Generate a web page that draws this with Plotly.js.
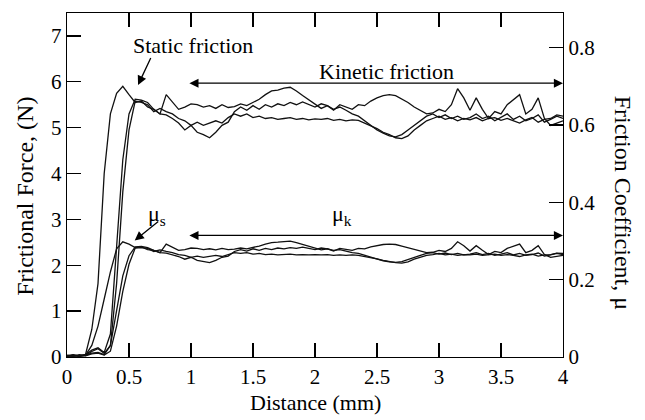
<!DOCTYPE html>
<html>
<head>
<meta charset="utf-8">
<script src="https://cdn.plot.ly/plotly-3.0.1.min.js"></script>
<style>html,body{margin:0;padding:0;background:#fff;}#chart{width:645px;height:420px;}</style>
</head>
<body>
<div id="chart"></div>
<script>
// Distance (mm) sample positions
const distance = [0,0.05,0.1,0.15,0.2,0.25,0.3,0.35,0.4,0.45,0.5,0.55,0.6,0.65,0.7,0.75,0.8,0.85,0.9,0.95,1.0,1.05,1.1,1.15,1.2,1.25,1.3,1.35,1.4,1.45,1.5,1.55,1.6,1.65,1.7,1.75,1.8,1.85,1.9,1.95,2.0,2.05,2.1,2.15,2.2,2.25,2.3,2.35,2.4,2.45,2.5,2.55,2.6,2.65,2.7,2.75,2.8,2.85,2.9,2.95,3.0,3.05,3.1,3.15,3.2,3.25,3.3,3.35,3.4,3.45,3.5,3.55,3.6,3.65,3.7,3.75,3.8,3.85,3.9,3.95,4.0];

// Frictional force (N), three runs
const forceRun1 = [0.03,0.05,0.02,0.06,0.6,1.6,4.0,5.3,5.75,5.9,5.72,5.55,
  5.58,5.45,5.4,5.3,5.28,5.2,5.1,4.95,5.05,4.9,4.85,4.78,4.9,5.05,5.12,5.35,5.45,5.38,5.48,5.4,5.5,5.45,5.52,5.48,5.55,5.5,5.56,5.5,5.45,5.52,5.48,5.4,5.45,5.38,5.3,5.25,5.15,5.05,4.95,4.88,4.82,4.8,4.85,4.95,5.05,5.15,5.25,5.3,5.22,5.28,5.2,5.25,5.18,5.22,5.3,5.2,5.25,5.15,5.22,5.3,5.18,5.25,5.15,5.2,5.28,5.12,5.18,5.25,5.2];
const forceRun2 = [0.02,0.04,0.03,0.05,0.15,0.2,0.1,0.5,2.4,4.3,5.3,5.62,
  5.6,5.55,5.4,5.3,5.72,5.55,5.4,5.45,5.52,5.5,5.45,5.48,5.42,5.5,5.44,5.46,5.52,5.48,5.55,5.62,5.72,5.8,5.82,5.86,5.88,5.8,5.7,5.6,5.5,5.42,5.48,5.38,5.5,5.45,5.4,5.5,5.48,5.58,5.65,5.7,5.72,5.7,5.62,5.55,5.45,5.38,5.3,5.32,5.4,5.35,5.5,5.85,5.65,5.38,5.65,5.4,5.2,5.35,5.3,5.5,5.62,5.72,5.3,5.4,5.65,5.2,5.05,5.1,5.15];
const forceRun3 = [0.04,0.02,0.05,0.03,0.12,0.18,0.08,0.25,1.6,3.6,4.95,5.58,
  5.55,5.5,5.35,5.42,5.35,5.3,5.2,5.15,5.05,5.12,5.05,5.1,5.15,5.1,5.22,5.3,5.25,5.3,5.22,5.25,5.2,5.22,5.18,5.2,5.22,5.18,5.2,5.17,5.19,5.18,5.2,5.16,5.18,5.15,5.17,5.16,5.1,5.05,4.98,4.9,4.85,4.78,4.76,4.82,4.95,5.05,5.15,5.2,5.25,5.18,5.22,5.15,5.2,5.17,5.22,5.15,5.2,5.22,5.16,5.2,5.15,5.1,5.17,5.22,5.12,5.18,5.2,5.28,5.25];

// Friction coefficient (mu), three runs
const muRun1 = [0.002,0.004,0.002,0.005,0.03,0.08,0.15,0.22,0.28,0.298,0.292,0.283,
  0.285,0.278,0.276,0.27,0.269,0.265,0.26,0.253,0.258,0.25,0.247,0.244,0.25,0.258,0.261,0.273,0.278,0.274,0.28,0.276,0.281,0.278,0.282,0.28,0.283,0.281,0.284,0.281,0.278,0.282,0.28,0.276,0.278,0.274,0.27,0.268,0.263,0.258,0.253,0.249,0.246,0.245,0.247,0.253,0.258,0.263,0.268,0.27,0.266,0.269,0.265,0.268,0.264,0.266,0.27,0.265,0.268,0.263,0.266,0.27,0.264,0.268,0.263,0.265,0.269,0.261,0.264,0.268,0.265];
const muRun2 = [0.002,0.003,0.002,0.004,0.01,0.012,0.006,0.03,0.12,0.21,0.262,0.285,
  0.286,0.283,0.276,0.27,0.292,0.283,0.276,0.278,0.282,0.281,0.278,0.28,0.277,0.281,0.278,0.279,0.282,0.28,0.283,0.287,0.292,0.296,0.297,0.299,0.3,0.296,0.291,0.286,0.281,0.277,0.28,0.274,0.281,0.278,0.276,0.281,0.28,0.285,0.288,0.291,0.292,0.291,0.287,0.283,0.278,0.274,0.27,0.271,0.276,0.273,0.281,0.298,0.288,0.274,0.288,0.276,0.265,0.273,0.27,0.281,0.287,0.292,0.27,0.276,0.288,0.265,0.258,0.26,0.263];
const muRun3 = [0.003,0.002,0.004,0.003,0.008,0.01,0.005,0.015,0.08,0.17,0.24,0.282,
  0.283,0.281,0.273,0.277,0.273,0.27,0.265,0.263,0.258,0.261,0.258,0.26,0.263,0.26,0.266,0.27,0.268,0.27,0.266,0.268,0.265,0.266,0.264,0.265,0.266,0.264,0.265,0.264,0.265,0.264,0.265,0.263,0.264,0.263,0.264,0.263,0.26,0.258,0.254,0.25,0.247,0.244,0.243,0.246,0.253,0.258,0.263,0.265,0.268,0.264,0.266,0.263,0.265,0.264,0.266,0.263,0.265,0.266,0.263,0.265,0.263,0.26,0.264,0.266,0.261,0.264,0.265,0.269,0.268];

const xTicks = [0,0.5,1,1.5,2,2.5,3,3.5,4];
const xTickText = ['0','0.5','1','1.5','2','2.5','3','3.5','4'];
const yTicks = [0,1,2,3,4,5,6,7];
const y2Ticks = [0,0.2,0.4,0.6,0.8];
const y2TickText = ['0','0.2','0.4','0.6','0.8'];

const FONT = 'Liberation Serif, Times New Roman, serif';
const lineStyle = {color:'#111', width:1.3};

const traces = [];
[forceRun1, forceRun2, forceRun3].forEach(v => traces.push({x:distance, y:v, type:'scatter', mode:'lines', line:lineStyle, xaxis:'x', yaxis:'y', hoverinfo:'skip'}));
[muRun1, muRun2, muRun3].forEach(v => traces.push({x:distance, y:v, type:'scatter', mode:'lines', line:lineStyle, xaxis:'x', yaxis:'y2', hoverinfo:'skip'}));

const axisCommon = {showgrid:false, zeroline:false, showline:true, linecolor:'#000', linewidth:1.3,
  ticks:'inside', ticklen:14, tickwidth:1.3, tickcolor:'#000', tickfont:{family:FONT, size:21, color:'#000'}};

const layout = {
  width:645, height:420,
  margin:{l:67, r:82, t:13, b:63},
  paper_bgcolor:'#fff', plot_bgcolor:'#fff',
  showlegend:false,
  font:{family:FONT, color:'#000'},
  xaxis:Object.assign({}, axisCommon, {range:[0,4], tickvals:xTicks, ticktext:xTickText, mirror:'ticks'}),
  yaxis:Object.assign({}, axisCommon, {range:[0,7.5], tickvals:yTicks}),
  yaxis2:Object.assign({}, axisCommon, {range:[0,0.89], tickvals:y2Ticks, ticktext:y2TickText, overlaying:'y', side:'right'}),
  annotations:[
    {text:'Distance (mm)', xref:'paper', yref:'paper', x:0.5, y:-0.133, xanchor:'center', yanchor:'middle', showarrow:false, font:{size:22}},
    {text:'Frictional Force, (N)', xref:'paper', yref:'paper', x:-0.085, y:0.468, xanchor:'center', yanchor:'middle', textangle:-90, showarrow:false, font:{size:24}},
    {text:'Friction Coefficient, μ', xref:'paper', yref:'paper', x:1.12, y:0.45, xanchor:'center', yanchor:'middle', textangle:90, showarrow:false, font:{size:24}},
    {text:'Static friction', xref:'x', yref:'y', x:1.016, y:6.8, showarrow:false, font:{size:22}},
    {text:'Kinetic friction', xref:'x', yref:'y', x:2.58, y:6.22, showarrow:false, font:{size:22}},
    {text:'μ<sub>s</sub>', xref:'x', yref:'y', x:0.725, y:3.09, showarrow:false, font:{size:22}},
    {text:'μ<sub>k</sub>', xref:'x', yref:'y', x:2.22, y:3.09, showarrow:false, font:{size:22}},
    {text:'', xref:'x', yref:'y', x:0.573, y:5.93, ax:0.681, ay:6.55, axref:'x', ayref:'y', showarrow:true, arrowhead:2, arrowsize:1.4, arrowwidth:1.3, arrowcolor:'#000', standoff:0},
    {text:'', xref:'x', yref:'y', x:0.546, y:2.54, ax:0.748, ay:2.98, axref:'x', ayref:'y', showarrow:true, arrowhead:2, arrowsize:1.4, arrowwidth:1.3, arrowcolor:'#000', standoff:0},
    {text:'', xref:'x', yref:'y', x:4.0, y:5.97, ax:0.975, ay:5.97, axref:'x', ayref:'y', showarrow:true, arrowside:'end+start', arrowhead:2, startarrowhead:2, arrowsize:1.4, startarrowsize:1.4, arrowwidth:1.3, arrowcolor:'#000', standoff:0, startstandoff:0},
    {text:'', xref:'x', yref:'y', x:4.0, y:2.65, ax:0.975, ay:2.65, axref:'x', ayref:'y', showarrow:true, arrowside:'end+start', arrowhead:2, startarrowhead:2, arrowsize:1.4, startarrowsize:1.4, arrowwidth:1.3, arrowcolor:'#000', standoff:0, startstandoff:0}
  ]
};

Plotly.newPlot('chart', traces, layout, {staticPlot:true, displayModeBar:false});
</script>
</body>
</html>
